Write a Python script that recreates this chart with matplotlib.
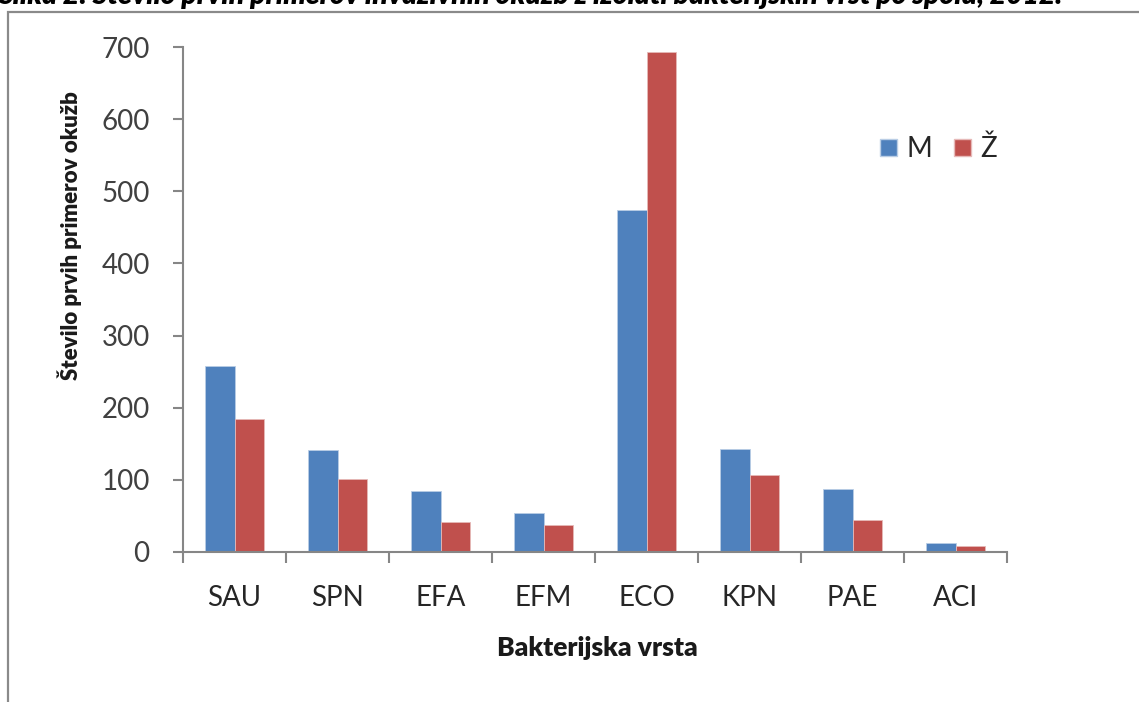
import matplotlib
matplotlib.use('Agg')
import numpy as np
import matplotlib.pyplot as plt
from matplotlib.patches import Rectangle, Patch

# Data
categories = ['SAU', 'SPN', 'EFA', 'EFM', 'ECO', 'KPN', 'PAE', 'ACI']
moski = [258, 141, 85, 54, 474, 143, 87, 13]
zenske = [185, 101, 42, 38, 693, 107, 45, 9]
series_names = ['M', 'Ž']
yticks = [0, 100, 200, 300, 400, 500, 600, 700]

title = ('Slika 2: Število prvih primerov invazivnih okužb z izolati '
         'bakterijskih vrst po spolu, 2012.')
ylabel = 'Število prvih primerov okužb'
xlabel = 'Bakterijska vrsta'

plt.rcParams['font.family'] = ['Lato', 'DejaVu Sans']

W, H = 1139, 702
fig = plt.figure(figsize=(W / 100, H / 100), dpi=100)
fig.patch.set_facecolor('white')

ax = fig.add_axes([183 / W, 1 - 552 / H, 824 / W, 505 / H])

x = np.arange(len(categories))
bw = 0.287
ax.bar(x - bw / 2, moski, width=bw, color='#4F81BD', edgecolor='#b9cde5',
       linewidth=0.6, zorder=2)
ax.bar(x + bw / 2, zenske, width=bw, color='#C0504D', edgecolor='#e6b9b8',
       linewidth=0.6, zorder=2)

ax.set_xlim(-0.5, len(categories) - 0.5)
ax.set_ylim(0, 700)

grey = '#868686'
for s in ['top', 'right']:
    ax.spines[s].set_visible(False)
for s in ['left', 'bottom']:
    ax.spines[s].set_color(grey)
    ax.spines[s].set_linewidth(1.5)

ax.set_yticks(yticks)
ax.set_yticklabels([str(v) for v in yticks], fontsize=20, color='#404040')
ax.tick_params(axis='y', length=7, width=1.5, color=grey, pad=17)

ax.set_xticks(np.arange(len(categories) + 1) - 0.5)
ax.set_xticklabels([])
ax.tick_params(axis='x', which='major', length=8, width=1.5, color=grey)
ax.set_xticks(x, minor=True)
ax.set_xticklabels(categories, minor=True, fontsize=20, color='#262626')
ax.tick_params(axis='x', which='minor', length=0, pad=24)

fig.text(70 / W, 1 - 236 / H, ylabel, rotation=90, ha='center', va='center',
         fontsize=16, fontweight='heavy', color='#1a1a1a')
fig.text(597 / W, 1 - 648 / H, xlabel, ha='center', va='center',
         fontsize=19, fontweight='heavy', color='#1a1a1a')

handles = [Patch(facecolor='#4F81BD', edgecolor='#b9cde5', label=series_names[0]),
           Patch(facecolor='#C0504D', edgecolor='#e6b9b8', label=series_names[1])]
fig.legend(handles=handles, loc='center left',
           bbox_to_anchor=(866 / W, 1 - 149 / H), ncol=2, frameon=False,
           fontsize=20, handlelength=0.6, handleheight=0.6,
           handletextpad=0.35, columnspacing=0.8, borderpad=0,
           labelcolor='#262626')

# outer chart frame, cut by the page edges
fig.patches.append(Rectangle((8 / W, -0.1), 1.2, 1.1 - 12 / H,
                             transform=fig.transFigure, fill=False,
                             edgecolor='#8a8a8a', linewidth=1.6))

# caption line above the chart, mostly cut away
fig.text(-2 / W, 1 - 4 / H, title, ha='left', va='baseline', fontsize=20.3,
         fontweight='heavy', style='italic', color='black')

fig.savefig('out.png', dpi=100)
